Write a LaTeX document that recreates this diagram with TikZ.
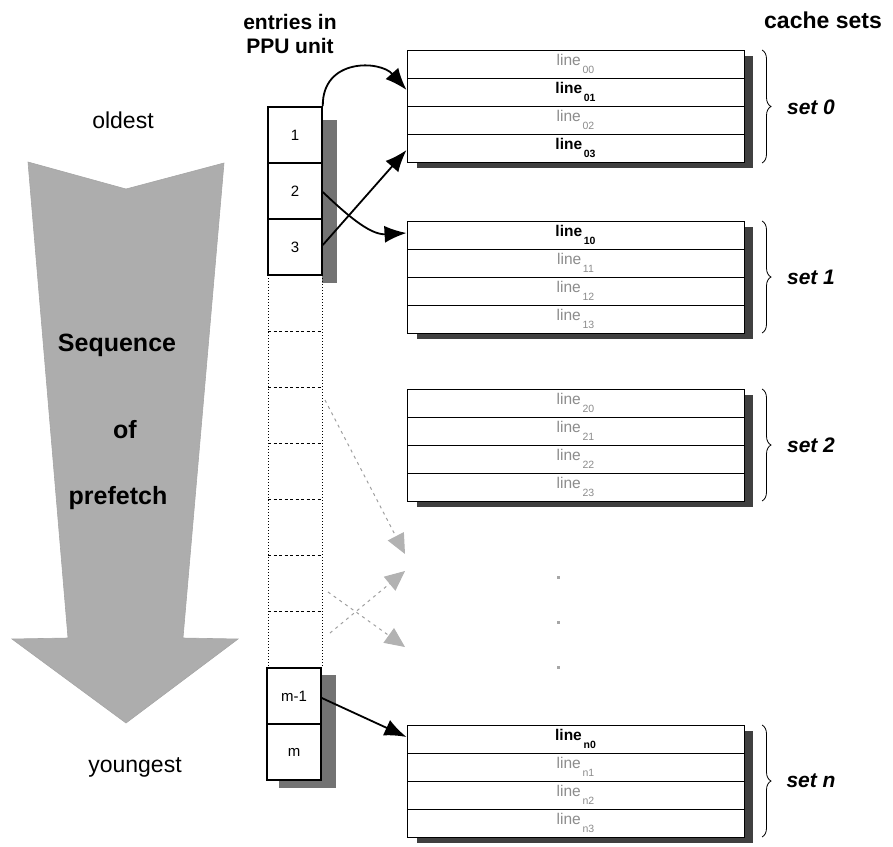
\documentclass[tikz,border=0pt]{standalone}
\usepackage{fontspec}
\setmainfont{Liberation Sans}
\usetikzlibrary{arrows.meta,decorations.pathreplacing}

\definecolor{shade}{gray}{0.25}
\definecolor{softshade}{gray}{0.45}
\definecolor{bigfill}{gray}{0.68}
\definecolor{faint}{gray}{0.55}

\newcommand{\cachelbl}[1]{line\raisebox{-0.5em}{\fontsize{10.5}{11}\selectfont\,#1}}

\tikzset{
  entry/.style={draw=black, line width=1.6pt, fill=white, minimum width=54pt,
    minimum height=56pt, inner sep=0pt, font=\fontsize{15}{16}\selectfont},
  row/.style={draw=black, line width=0.9pt, fill=white, minimum width=337pt,
    minimum height=28pt, inner sep=0pt, font=\fontsize{15.5}{16}\selectfont},
  hot/.style={row, font=\fontsize{15.5}{16}\selectfont\bfseries},
  cold/.style={row, text=faint},
  shadowfill/.style={fill=shade, draw=none},
  fetch/.style={line width=1.8pt, -{Latex[length=22pt,width=17pt]}},
  ghost/.style={draw=gray!75, line width=1pt, dash pattern=on 3pt off 4pt,
    -{Triangle[length=20pt,width=18pt,fill=gray!60,color=gray!60]}},
  setlabel/.style={font=\fontsize{21}{24}\selectfont\bfseries\itshape},
  head/.style={font=\fontsize{21}{24}\selectfont\bfseries, align=center},
  brc/.style={decorate, decoration={brace, amplitude=9pt}, line width=0.8pt},
  dot/.style={fill=gray!70, draw=none, minimum size=3pt, inner sep=0pt, rectangle}
}

\begin{document}
\begin{tikzpicture}[x=1pt, y=-1pt]
\useasboundingbox (0,0) rectangle (893,846);

% headings
\node[head] (hdent) at (290,34) {entries in\\PPU unit};
\node[head, font=\fontsize{23}{26}\selectfont\bfseries] (hdsets) at (823,20) {cache sets};

% prefetch order arrow
\draw[fill=bigfill, draw=gray!70, line width=0.6pt]
  (28,162) -- (126,189) -- (224,163) -- (183,638) -- (238,639)
  -- (126,723) -- (12,639) -- (68,638) -- cycle;
\node[font=\fontsize{23}{26}\selectfont] (old) at (123,120) {oldest};
\node[font=\fontsize{23}{26}\selectfont] (young) at (135,767) {youngest};
\node[font=\fontsize{25}{28}\selectfont\bfseries] (seq) at (117,345) {Sequence};
\node[font=\fontsize{25}{28}\selectfont\bfseries] (of) at (125,430) {of};
\node[font=\fontsize{25}{28}\selectfont\bfseries] (pf) at (118,498) {prefetch};

% PPU entries: filled ones
\fill[softshade] (322,120) rectangle (337,283);
\node[entry] (e1) at (295,135) {1};
\node[entry] (e2) at (295,191) {2};
\node[entry] (e3) at (295,247) {3};

% empty entries
\draw[line width=1pt, dotted] (268,275) -- (268,667);
\draw[line width=1pt, dotted] (322,275) -- (322,667);
\foreach \yy in {331,387,443,499,555,611}
  \draw[line width=1pt, dash pattern=on 3pt off 2.5pt] (268,\yy) -- (322,\yy);

% last entries
\fill[softshade] (279,675) rectangle (336,788);
\node[entry] (em1) at (294,696) {m-1};
\node[entry] (em) at (294,752) {m};

% cache sets
\foreach \t in {50,221,389,725}
  \fill[shadowfill] (417,\t+6) rectangle (753,\t+118);

\node[cold] (s00) at (575.5,64) {\cachelbl{00}};
\node[hot]  (s01) at (575.5,92) {\cachelbl{01}};
\node[cold] (s02) at (575.5,120) {\cachelbl{02}};
\node[hot]  (s03) at (575.5,148) {\cachelbl{03}};

\node[hot]  (s10) at (575.5,235) {\cachelbl{10}};
\node[cold] (s11) at (575.5,263) {\cachelbl{11}};
\node[cold] (s12) at (575.5,291) {\cachelbl{12}};
\node[cold] (s13) at (575.5,319) {\cachelbl{13}};

\node[cold] (s20) at (575.5,403) {\cachelbl{20}};
\node[cold] (s21) at (575.5,431) {\cachelbl{21}};
\node[cold] (s22) at (575.5,459) {\cachelbl{22}};
\node[cold] (s23) at (575.5,487) {\cachelbl{23}};

\node[hot]  (sn0) at (575.5,739) {\cachelbl{n0}};
\node[cold] (sn1) at (575.5,767) {\cachelbl{n1}};
\node[cold] (sn2) at (575.5,795) {\cachelbl{n2}};
\node[cold] (sn3) at (575.5,823) {\cachelbl{n3}};

% braces and set names
\draw[brc] (762,50) -- (762,163);
\draw[brc] (762,221) -- (762,333);
\draw[brc] (762,389) -- (762,501);
\draw[brc] (762,725) -- (762,837);
\node[setlabel] (l0) at (811,107) {set 0};
\node[setlabel] (l1) at (811,277) {set 1};
\node[setlabel] (l2) at (811,445) {set 2};
\node[setlabel] (ln) at (811,781) {set n};

% ellipsis between set 2 and set n
\node[dot] (d1) at (558,577) {};
\node[dot] (d2) at (558,622) {};
\node[dot] (d3) at (558,667) {};

% prefetch mappings
\draw[fetch] (e1.north east) .. controls (322,58) and (380,60) .. ([yshift=2pt]s01.west);
\draw[fetch] ([yshift=2pt]e3.east) -- ([yshift=-2pt]s03.west);
\draw[fetch] ([yshift=-1pt]e2.east) .. controls (352,220) and (372,235) .. ([yshift=2pt]s10.west);
\draw[fetch] ([yshift=-2pt]em1.east) -- ([yshift=2pt]sn0.west);

% possible future mappings
\coordinate (ga) at (405,554);
\coordinate (gb) at (405,571);
\coordinate (gc) at (405,647);
\draw[ghost] (325,400) -- (ga);
\draw[ghost] (330,633) -- (gb);
\draw[ghost] (328,592) -- (gc);
\end{tikzpicture}
\end{document}
